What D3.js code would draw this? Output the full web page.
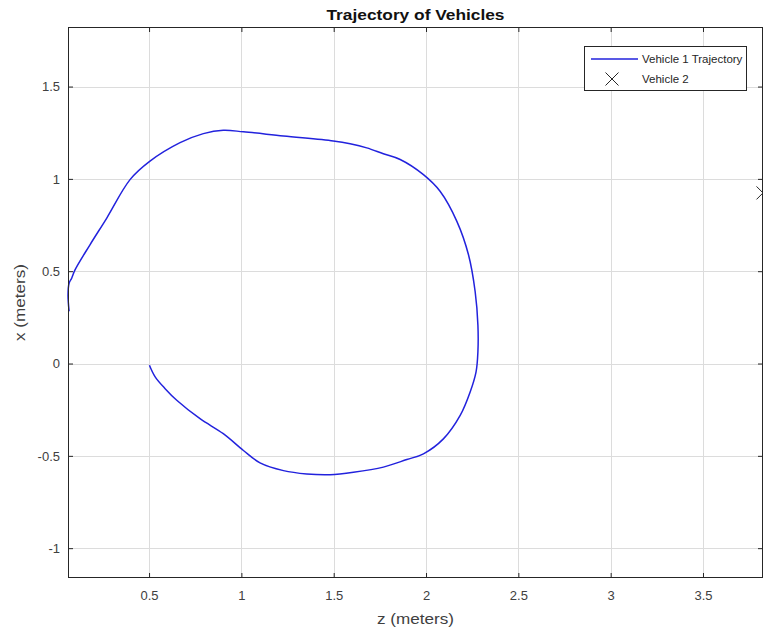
<!DOCTYPE html>
<html>
<head>
<meta charset="utf-8">
<script src="https://cdn.jsdelivr.net/npm/d3@7"></script>
<style>
  html, body { margin: 0; padding: 0; background: #fff; }
  svg { display: block; font-family: "Liberation Sans", Arial, Helvetica, sans-serif; }
</style>
</head>
<body>
<svg id="chart" width="764" height="631"></svg>
<script>
// Vehicle 1 path, horizontal (z) and vertical (x) coordinates in meters
const trajZ = [0.502, 0.533, 0.587, 0.650, 0.776, 0.902, 1.011, 1.101, 1.228, 1.354,
  1.480, 1.607, 1.769, 1.896, 1.986, 2.094, 2.185, 2.239, 2.271, 2.281,
  2.281, 2.266, 2.230, 2.167, 2.076, 1.986, 1.860, 1.769, 1.679, 1.589,
  1.498, 1.228, 1.011, 0.902, 0.794, 0.668, 0.505, 0.397, 0.271, 0.180,
  0.099, 0.081, 0.067, 0.061, 0.067];
const trajX = [-0.009, -0.072, -0.136, -0.199, -0.299, -0.380, -0.471, -0.538, -0.580, -0.598,
  -0.602, -0.589, -0.561, -0.520, -0.489, -0.408, -0.281, -0.154, -0.045, 0.064,
  0.208, 0.390, 0.589, 0.770, 0.933, 1.023, 1.105, 1.136, 1.168, 1.190,
  1.205, 1.232, 1.255, 1.263, 1.245, 1.196, 1.096, 0.996, 0.788, 0.643,
  0.507, 0.462, 0.435, 0.371, 0.283];

// Vehicle 2 position
const vehicle2Z = [3.825];
const vehicle2X = [0.924];

const zTicks = [0.5, 1, 1.5, 2, 2.5, 3, 3.5];
const xTicks = [-1, -0.5, 0, 0.5, 1, 1.5];
const seriesNames = ["Vehicle 1 Trajectory", "Vehicle 2"];

const svg = d3.select("#chart");
const plot = { left: 68, right: 763, top: 27, bottom: 578 };
const pw = plot.right - plot.left, ph = plot.bottom - plot.top;
const axisColor = "#262626";
const labelColor = "#404040";
const lineColor = "#2222dd";

// tight limits on z, equal aspect on x (centred on the data)
const allZ = trajZ.concat(vehicle2Z), allX = trajX.concat(vehicle2X);
const zDom = d3.extent(allZ);
const pxPerUnit = pw / (zDom[1] - zDom[0]);
const xExt = d3.extent(allX);
const xMid = (xExt[0] + xExt[1]) / 2;
const xHalf = ph / pxPerUnit / 2;

const zScale = d3.scaleLinear().domain(zDom).range([plot.left, plot.right]);
const xScale = d3.scaleLinear().domain([xMid - xHalf, xMid + xHalf]).range([plot.bottom, plot.top]);

svg.append("defs").append("clipPath").attr("id", "plotClip")
  .append("rect").attr("x", plot.left - 1).attr("y", plot.top).attr("width", pw + 1).attr("height", ph);

// grid
const grid = svg.append("g").attr("stroke", "#dcdcdc").attr("stroke-width", 1);
grid.selectAll(".gz").data(zTicks).join("line")
  .attr("x1", d => Math.round(zScale(d)) + 0.5).attr("x2", d => Math.round(zScale(d)) + 0.5)
  .attr("y1", plot.top).attr("y2", plot.bottom);
grid.selectAll(".gx").data(xTicks).join("line")
  .attr("y1", d => Math.round(xScale(d)) + 0.5).attr("y2", d => Math.round(xScale(d)) + 0.5)
  .attr("x1", plot.left).attr("x2", plot.right);

// data
const g = svg.append("g").attr("clip-path", "url(#plotClip)");
const pts = trajZ.map((z, i) => [z, trajX[i]]);
g.append("path")
  .attr("d", d3.line().x(d => zScale(d[0])).y(d => xScale(d[1])).curve(d3.curveCatmullRom.alpha(0.5))(pts))
  .attr("fill", "none").attr("stroke", lineColor).attr("stroke-width", 1.5)
  .attr("stroke-linejoin", "round");

const m = 6.5;
function cross(sel, cx, cy) {
  sel.append("path")
    .attr("d", `M${cx - m},${cy - m}L${cx + m},${cy + m}M${cx - m},${cy + m}L${cx + m},${cy - m}`)
    .attr("stroke", axisColor).attr("stroke-width", 1).attr("fill", "none");
}
vehicle2Z.forEach((z, i) => cross(g, zScale(z), xScale(vehicle2X[i])));

// axes (box with inward ticks); plain hyphen for negative numbers
const fmt = d => String(d);
const bottomAxis = d3.axisBottom(zScale).tickValues(zTicks).tickSize(-5).tickPadding(13).tickFormat(fmt);
const topAxis = d3.axisTop(zScale).tickValues(zTicks).tickSize(-5).tickFormat("");
const leftAxis = d3.axisLeft(xScale).tickValues(xTicks).tickSize(-5).tickPadding(8).tickFormat(fmt);
const rightAxis = d3.axisRight(xScale).tickValues(xTicks).tickSize(-5).tickFormat("");

function styleAxis(sel) {
  sel.select(".domain").remove();
  sel.selectAll(".tick line").attr("stroke", axisColor);
  sel.selectAll(".tick text").attr("fill", labelColor).style("font-size", "13px")
    .style("font-family", "'Liberation Sans', Arial, sans-serif");
}
svg.append("g").attr("transform", `translate(0,${plot.bottom})`).call(bottomAxis).call(styleAxis);
svg.append("g").attr("transform", `translate(0,${plot.top})`).call(topAxis).call(styleAxis);
svg.append("g").attr("transform", `translate(${plot.left},0)`).call(leftAxis).call(styleAxis);
svg.append("g").attr("transform", `translate(${plot.right},0)`).call(rightAxis).call(styleAxis);

svg.append("rect").attr("x", plot.left + 0.5).attr("y", plot.top + 0.5)
  .attr("width", pw - 1).attr("height", ph - 1)
  .attr("fill", "none").attr("stroke", axisColor).attr("stroke-width", 1);

// title and axis labels
svg.append("text").attr("x", (plot.left + plot.right) / 2).attr("y", 20)
  .attr("text-anchor", "middle").attr("font-weight", "bold").attr("font-size", 15)
  .attr("textLength", 178).attr("lengthAdjust", "spacingAndGlyphs")
  .attr("fill", "#111").text("Trajectory of Vehicles");
svg.append("text").attr("x", (plot.left + plot.right) / 2).attr("y", 624)
  .attr("text-anchor", "middle").attr("font-size", 14.5)
  .attr("textLength", 77).attr("lengthAdjust", "spacingAndGlyphs")
  .attr("fill", labelColor).text("z (meters)");
svg.append("text").attr("transform", `translate(25,${(plot.top + plot.bottom) / 2}) rotate(-90)`)
  .attr("text-anchor", "middle").attr("font-size", 14.5)
  .attr("textLength", 77).attr("lengthAdjust", "spacingAndGlyphs")
  .attr("fill", labelColor).text("x (meters)");

// legend
const lg = svg.append("g");
lg.append("rect").attr("x", 584.5).attr("y", 46.5).attr("width", 162).attr("height", 44)
  .attr("fill", "#fff").attr("stroke", axisColor).attr("stroke-width", 1);
lg.append("line").attr("x1", 591).attr("x2", 638).attr("y1", 59).attr("y2", 59)
  .attr("stroke", lineColor).attr("stroke-width", 1.5);
cross(lg, 612, 79);
lg.selectAll(".lt").data(seriesNames).join("text")
  .attr("x", 642).attr("y", (d, i) => 63 + i * 20)
  .attr("font-size", 11.5).attr("fill", axisColor).text(d => d);
</script>
</body>
</html>
